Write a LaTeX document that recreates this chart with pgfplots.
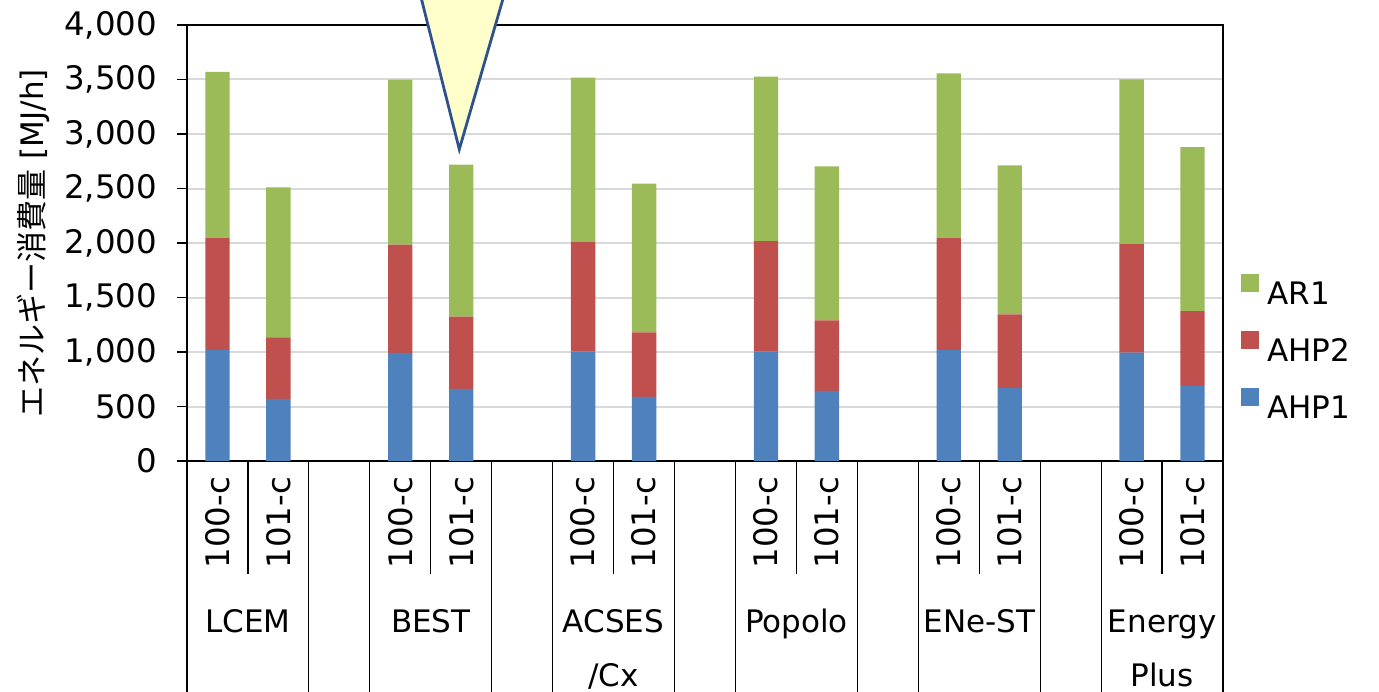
\documentclass[border=0pt]{standalone}
\usepackage{fontspec}
\setmainfont{DejaVu Sans}
\newfontfamily\cjk{Noto Sans CJK JP}
\usepackage{pgfplots}
\usepackage{pgfplotstable}
\pgfplotsset{compat=1.18}
\definecolor{cblue}{HTML}{4F81BD}
\definecolor{cred}{HTML}{C0504D}
\definecolor{cgreen}{HTML}{9BBB59}
\definecolor{cyell}{HTML}{FFFFCC}
\definecolor{cline}{RGB}{47,82,143}
\pgfplotstableread{
x AHP1 AHP2 AR1
0 1020 1025 1525
1 570 565 1375
3 992 994 1513
4 661 664 1393
6 1003 1004 1510
7 588 593 1363
9 1004 1013 1509
10 643 648 1411
12 1019 1025 1512
13 670 676 1366
15 994 995 1512
16 689 686 1505
}\data
\newcommand\f{\fontsize{15.5}{18}\selectfont}
\newcommand\ft{\fontsize{16.2}{19}\selectfont}
\begin{document}
\begin{tikzpicture}
\useasboundingbox (0,0) rectangle (689.5pt,345.5pt);
\clip (0,0) rectangle (689.5pt,345.5pt);
\begin{axis}[
 at={(93.5pt,115pt)}, anchor=south west,
 scale only axis, width=518pt, height=218pt,
 xmin=-0.5, xmax=16.5, ymin=0, ymax=4000,
 ybar stacked, bar width=0.4,
 clip=false,
 axis line style={black, line width=0.8pt},
 ytick={0,500,...,4000}, ytick pos=left,
 scaled y ticks=false,
 /pgf/number format/1000 sep={,},
 /pgf/number format/assume math mode=true,
 tick align=outside, major tick length=5pt,
 tick style={black, line width=0.7pt},
 yticklabel shift=6.5pt,
 xticklabel shift=-0.5pt,
 ymajorgrids, major grid style={draw=black!15, line width=1pt},
 xtick={0,1,3,4,6,7,9,10,12,13,15,16},
 xticklabels={100-c,101-c,100-c,101-c,100-c,101-c,100-c,101-c,100-c,101-c,100-c,101-c},
 x tick label style={rotate=90, anchor=east},
 x tick style={draw=none},
 ticklabel style={font=\ft},
 ylabel={{\cjk エネルギー消費量} [MJ/h]},
 ylabel style={font=\f, at={(axis description cs:-0.1486,0.5)}, anchor=center},
 legend style={at={(1.0,0.255)}, anchor=west, xshift=6pt, draw=none, fill=none, font=\f, row sep=10pt},
 legend cell align=left,
 reverse legend,
 legend image code/.code={\fill[#1, draw=none] (0pt,1.15pt) rectangle (9pt,10.15pt); \path (11pt,5pt);},
]
\addplot[fill=cblue, draw=none] table[x=x,y=AHP1]{\data};
\addlegendentry{AHP1}
\addplot[fill=cred, draw=none] table[x=x,y=AHP2]{\data};
\addlegendentry{AHP2}
\addplot[fill=cgreen, draw=none] table[x=x,y=AR1]{\data};
\addlegendentry{AR1}
% category table lines
\draw[line width=0.6pt] (axis cs:-0.5,0) -- (axis cs:-0.5,-2400);
\draw[line width=0.6pt] (axis cs:1.5,0) -- (axis cs:1.5,-2400);
\draw[line width=0.6pt] (axis cs:2.5,0) -- (axis cs:2.5,-2400);
\draw[line width=0.6pt] (axis cs:4.5,0) -- (axis cs:4.5,-2400);
\draw[line width=0.6pt] (axis cs:5.5,0) -- (axis cs:5.5,-2400);
\draw[line width=0.6pt] (axis cs:7.5,0) -- (axis cs:7.5,-2400);
\draw[line width=0.6pt] (axis cs:8.5,0) -- (axis cs:8.5,-2400);
\draw[line width=0.6pt] (axis cs:10.5,0) -- (axis cs:10.5,-2400);
\draw[line width=0.6pt] (axis cs:11.5,0) -- (axis cs:11.5,-2400);
\draw[line width=0.6pt] (axis cs:13.5,0) -- (axis cs:13.5,-2400);
\draw[line width=0.6pt] (axis cs:14.5,0) -- (axis cs:14.5,-2400);
\draw[line width=0.6pt] (axis cs:16.5,0) -- (axis cs:16.5,-2400);
\draw[line width=0.6pt] (axis cs:0.5,0) -- (axis cs:0.5,-1038);
\draw[line width=0.6pt] (axis cs:3.5,0) -- (axis cs:3.5,-1038);
\draw[line width=0.6pt] (axis cs:6.5,0) -- (axis cs:6.5,-1038);
\draw[line width=0.6pt] (axis cs:9.5,0) -- (axis cs:9.5,-1038);
\draw[line width=0.6pt] (axis cs:12.5,0) -- (axis cs:12.5,-1038);
\draw[line width=0.6pt] (axis cs:15.5,0) -- (axis cs:15.5,-1038);
% group labels
\node[font=\f, anchor=base] at (axis cs:0.5,-1570) {LCEM};
\node[font=\f, anchor=base] at (axis cs:3.5,-1570) {BEST};
\node[font=\f, anchor=base] at (axis cs:6.5,-1570) {ACSES};
\node[font=\f, anchor=base] at (axis cs:6.5,-2066) {/Cx};
\node[font=\f, anchor=base] at (axis cs:9.5,-1570) {Popolo};
\node[font=\f, anchor=base] at (axis cs:12.5,-1570) {ENe-ST};
\node[font=\f, anchor=base] at (axis cs:15.5,-1570) {Energy};
\node[font=\f, anchor=base] at (axis cs:15.5,-2066) {Plus};
\end{axis}
% callout pointer
\fill[cyell] (205.8pt,365.5pt) -- (229.65pt,270.85pt) -- (257.15pt,365.5pt) -- cycle;
\draw[cline, line width=1.4pt, line join=miter] (205.8pt,365.5pt) -- (229.65pt,270.85pt) -- (257.15pt,365.5pt);
\end{tikzpicture}
\end{document}
